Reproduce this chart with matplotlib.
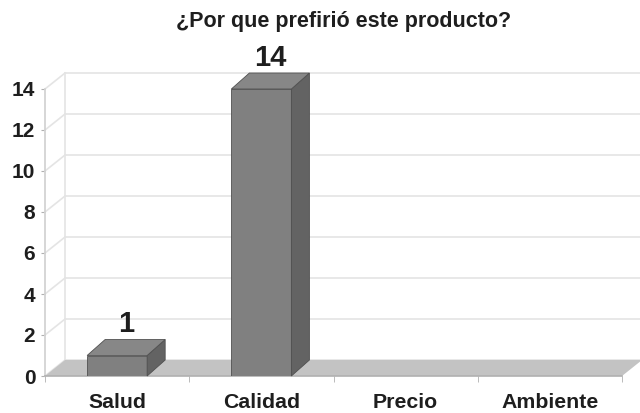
import matplotlib.pyplot as plt
from matplotlib.patches import Polygon

plt.rcParams['font.family'] = ['Liberation Sans', 'DejaVu Sans']

titulo = "¿Por que prefirió este producto?"
categorias = ["Salud", "Calidad", "Precio", "Ambiente"]
valores = [1, 14, 0, 0]
yticks = [0, 2, 4, 6, 8, 10, 12, 14]

# estilo
frente = '#808080'
lado = '#636363'
arriba = '#878787'
borde = '#505050'
piso = '#c3c3c3'
rejilla = '#e4e4e4'
texto = '#1e1e1e'

fig = plt.figure(figsize=(6.4, 4.13), dpi=100)
ax = fig.add_axes([45 / 640, 37 / 413, 577 / 640, 287 / 413])
ax.set_xlim(-0.5, len(categorias) - 0.5)
ax.set_ylim(0, max(yticks))
ax.patch.set_visible(False)
for s in ax.spines.values():
    s.set_visible(False)

# profundidad (en unidades de datos)
dx = 0.139
dy = 0.78
bdx = 0.125
x0, x1 = -0.5, len(categorias) - 0.5
ymax = max(yticks)

# pared de fondo
ax.add_patch(Polygon([(x0 + dx, dy), (x1 + dx, dy), (x1 + dx, ymax + dy), (x0 + dx, ymax + dy)],
                     closed=True, facecolor='white', edgecolor='none', clip_on=False, zorder=1))
for v in yticks:
    ax.plot([x0 + dx, x1 + dx], [v + dy, v + dy], color=rejilla, lw=1.2, clip_on=False, zorder=2)
    ax.plot([x0, x0 + dx], [v, v + dy], color=rejilla, lw=1.2, clip_on=False, zorder=2)
ax.plot([x1 + dx, x1 + dx], [dy, ymax + dy], color='#cfcfcf', lw=1.2, clip_on=False, zorder=2)
ax.plot([x0 + dx, x0 + dx], [dy, ymax + dy], color=rejilla, lw=1.2, clip_on=False, zorder=2)
ax.plot([x0, x0], [0, ymax], color='#d0d0d0', lw=1.2, clip_on=False, zorder=2)

# piso
ax.add_patch(Polygon([(x0, 0), (x1, 0), (x1 + dx, dy), (x0 + dx, dy)],
                     closed=True, facecolor=piso, edgecolor='none', clip_on=False, zorder=3))
ax.plot([x0, x1], [0, 0], color='#b0b0b0', lw=1.2, clip_on=False, zorder=3)

# barras
w = 0.416
for i, v in enumerate(valores):
    if v == 0:
        continue
    xl, xr = i - w / 2, i + w / 2
    ax.bar(i, v, width=w, color=frente, edgecolor=borde, linewidth=0.6, zorder=5)
    ax.add_patch(Polygon([(xr, 0), (xr + bdx, dy), (xr + bdx, v + dy), (xr, v)],
                         closed=True, facecolor=lado, edgecolor=borde, lw=0.6, clip_on=False, zorder=5))
    ax.add_patch(Polygon([(xl, v), (xr, v), (xr + bdx, v + dy), (xl + bdx, v + dy)],
                         closed=True, facecolor=arriba, edgecolor=borde, lw=0.6, clip_on=False, zorder=5))
    ax.text(i + bdx / 2, v + dy + 0.05, str(v), ha='center', va='bottom',
            fontsize=21, fontweight='bold', color=texto, zorder=6)

# ejes
ax.set_yticks(yticks)
ax.set_yticklabels([str(t) for t in yticks], fontsize=15, fontweight='bold', color=texto)
ax.tick_params(axis='y', length=3, color='#b0b0b0', pad=4)
ax.set_xticks(range(len(categorias)))
ax.set_xticklabels(categorias, fontsize=15.3, fontweight='bold', color=texto)
ax.set_xticks([k - 0.5 for k in range(len(categorias) + 1)], minor=True)
ax.tick_params(axis='x', which='major', length=0, pad=12)
ax.tick_params(axis='x', which='minor', length=4, color='#b0b0b0')

fig.text(344 / 640, 1 - 21 / 413, titulo, ha='center', va='center',
         fontsize=15.5, fontweight='bold', color=texto)

fig.savefig('out.png', dpi=100)
